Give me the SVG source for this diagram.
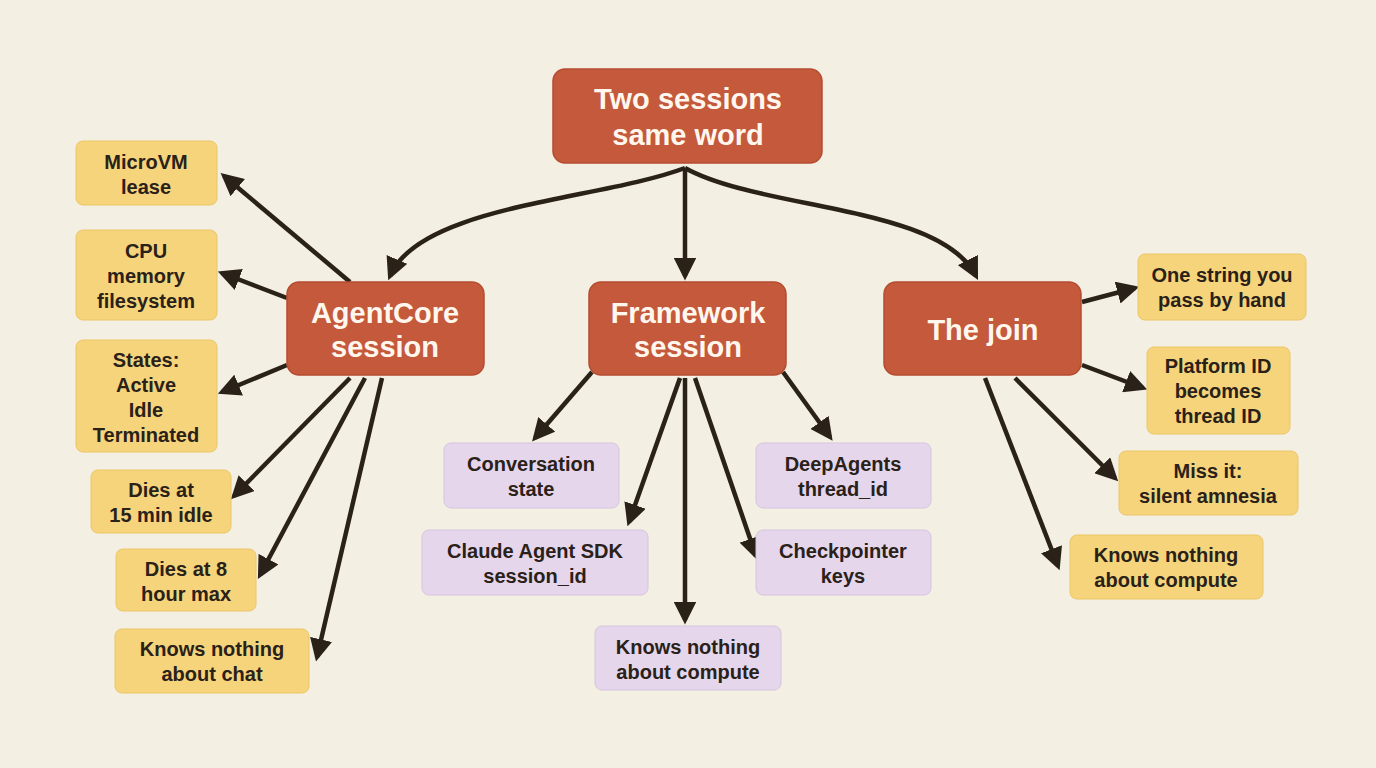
<svg xmlns="http://www.w3.org/2000/svg" width="1376" height="768" viewBox="0 0 1376 768">
<defs>
<marker id="ah" viewBox="0 0 10 10" refX="8" refY="5" markerWidth="5" markerHeight="5" orient="auto" markerUnits="strokeWidth"><path d="M0,0 L10,5 L0,10 z" fill="#2a2118"/></marker>
<style>
.o{fill:#c4593b;stroke:#b54c30;stroke-width:1.5}
.y{fill:#f6d47c;stroke:#ecc666;stroke-width:1}
.p{fill:#e5d6ec;stroke:#d6c4e0;stroke-width:1}
.t{font-family:"Liberation Sans",Arial,sans-serif;font-weight:bold;font-size:20px;fill:#2a2118;text-anchor:middle}
.tw{font-family:"Liberation Sans",Arial,sans-serif;font-weight:bold;font-size:29px;fill:#fff7ee;text-anchor:middle}
.c{fill:none;stroke:#2a2118;stroke-width:4.5;marker-end:url(#ah)}
</style>
</defs>
<rect width="1376" height="768" fill="#f3efe3"/>
<g id="connectors">
<path class="c" d="M685,168 C600,200 420,205 390,276"/>
<path class="c" d="M685,168 L685,276"/>
<path class="c" d="M685,168 C760,210 940,205 976,276"/>
<path class="c" d="M350,282 L224,176"/>
<path class="c" d="M287,298 L222,273"/>
<path class="c" d="M287,365 L222,392"/>
<path class="c" d="M350,378 L234,496"/>
<path class="c" d="M365,378 L260,575"/>
<path class="c" d="M382,378 L317,657"/>
<path class="c" d="M592,372 L535,438"/>
<path class="c" d="M680,378 L629,522"/>
<path class="c" d="M685,378 L685,620"/>
<path class="c" d="M695,378 L756,556"/>
<path class="c" d="M783,372 L830,437"/>
<path class="c" d="M1082,302 L1135,288"/>
<path class="c" d="M1082,365 L1143,388"/>
<path class="c" d="M1015,378 L1115,478"/>
<path class="c" d="M985,378 L1058,566"/>
</g>
<g id="root"><rect class="o" x="553" y="69" width="269" height="94" rx="12"/><text class="tw" x="688" y="109">Two sessions</text><text class="tw" x="688" y="145">same word</text></g>
<g id="agentcore"><rect class="o" x="287" y="282" width="197" height="93" rx="12"/><text class="tw" x="385" y="323">AgentCore</text><text class="tw" x="385" y="357">session</text></g>
<g id="framework"><rect class="o" x="589" y="282" width="197" height="93" rx="12"/><text class="tw" x="688" y="323">Framework</text><text class="tw" x="688" y="357">session</text></g>
<g id="join"><rect class="o" x="884" y="282" width="197" height="93" rx="12"/><text class="tw" x="983" y="340">The join</text></g>
<g id="microvm"><rect class="y" x="76" y="141" width="141" height="64" rx="7"/><text class="t" x="146" y="169">MicroVM</text><text class="t" x="146" y="194">lease</text></g>
<g id="cpu"><rect class="y" x="76" y="230" width="141" height="90" rx="7"/><text class="t" x="146" y="258">CPU</text><text class="t" x="146" y="283">memory</text><text class="t" x="146" y="308">filesystem</text></g>
<g id="states"><rect class="y" x="76" y="340" width="141" height="112" rx="7"/><text class="t" x="146" y="367">States:</text><text class="t" x="146" y="392">Active</text><text class="t" x="146" y="417">Idle</text><text class="t" x="146" y="442">Terminated</text></g>
<g id="dies15"><rect class="y" x="91" y="470" width="140" height="63" rx="7"/><text class="t" x="161" y="497">Dies at</text><text class="t" x="161" y="522">15 min idle</text></g>
<g id="dies8"><rect class="y" x="116" y="549" width="140" height="62" rx="7"/><text class="t" x="186" y="576">Dies at 8</text><text class="t" x="186" y="601">hour max</text></g>
<g id="nochat"><rect class="y" x="115" y="629" width="194" height="64" rx="7"/><text class="t" x="212" y="656">Knows nothing</text><text class="t" x="212" y="681">about chat</text></g>
<g id="conv"><rect class="p" x="444" y="443" width="175" height="65" rx="7"/><text class="t" x="531" y="471">Conversation</text><text class="t" x="531" y="496">state</text></g>
<g id="claude"><rect class="p" x="422" y="530" width="226" height="65" rx="7"/><text class="t" x="535" y="558">Claude Agent SDK</text><text class="t" x="535" y="583">session_id</text></g>
<g id="deep"><rect class="p" x="756" y="443" width="175" height="65" rx="7"/><text class="t" x="843" y="471">DeepAgents</text><text class="t" x="843" y="496">thread_id</text></g>
<g id="checkpointer"><rect class="p" x="756" y="530" width="175" height="65" rx="7"/><text class="t" x="843" y="558">Checkpointer</text><text class="t" x="843" y="583">keys</text></g>
<g id="nocompute1"><rect class="p" x="595" y="626" width="186" height="64" rx="7"/><text class="t" x="688" y="654">Knows nothing</text><text class="t" x="688" y="679">about compute</text></g>
<g id="onestring"><rect class="y" x="1138" y="254" width="168" height="66" rx="7"/><text class="t" x="1222" y="282">One string you</text><text class="t" x="1222" y="307">pass by hand</text></g>
<g id="platform"><rect class="y" x="1147" y="347" width="143" height="87" rx="7"/><text class="t" x="1218" y="373">Platform ID</text><text class="t" x="1218" y="398">becomes</text><text class="t" x="1218" y="423">thread ID</text></g>
<g id="miss"><rect class="y" x="1119" y="451" width="179" height="64" rx="7"/><text class="t" x="1208" y="478">Miss it:</text><text class="t" x="1208" y="503">silent amnesia</text></g>
<g id="nocompute2"><rect class="y" x="1070" y="535" width="193" height="64" rx="7"/><text class="t" x="1166" y="562">Knows nothing</text><text class="t" x="1166" y="587">about compute</text></g>
</svg>
